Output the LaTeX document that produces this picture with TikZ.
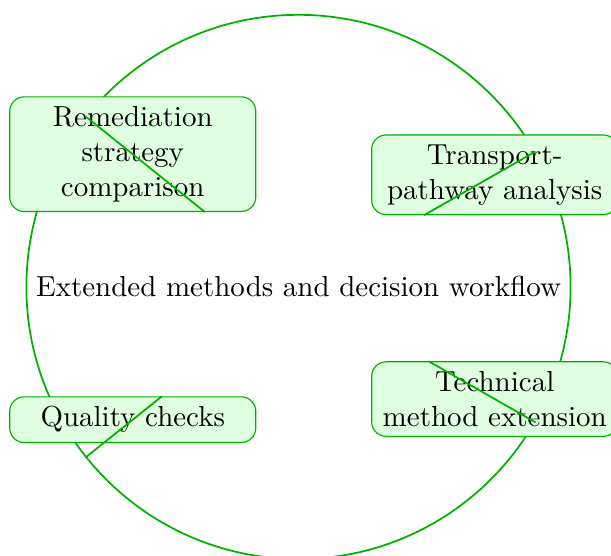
\documentclass[tikz,border=0pt]{standalone}
\usepackage{tikz}
\usetikzlibrary{calc}
\usepackage{color}

\tikzset{
  leaf/.style={draw=green!70!black, fill=green!12, rounded corners=5pt,
    text width=2.75cm, align=center},
  link/.style={semithick, green!70!black}
}

\begin{document}
\begin{tikzpicture}

    \clip (-3.62,-3.26) rectangle (3.79,3.48);

    % hub
    \node (hub) at (0,0) [draw=green!70!black, semithick, circle] {Extended methods and decision workflow};

    % leaves
    \node (rem) at (-2.01,1.61) [leaf] {Remediation strategy comparison};
    \node (path) at (2.38,1.36) [leaf] {Transport-pathway analysis};
    \node (tech) at (2.38,-1.36) [leaf] {Technical method extension};
    \node (qual) at (-2.01,-1.61) [leaf] {Quality checks};

    \foreach \n in {rem,path,tech,qual}
             { \draw[link] (hub) -- (\n);}

\end{tikzpicture}
\end{document}
